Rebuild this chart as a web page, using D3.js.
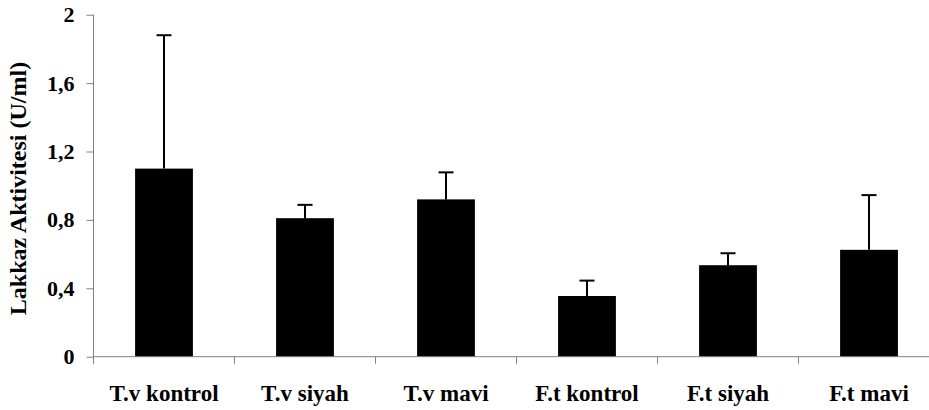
<!DOCTYPE html>
<html>
<head>
<meta charset="utf-8">
<script src="https://cdn.jsdelivr.net/npm/d3@7"></script>
<style>
  body { margin: 0; background: #fff; }
  svg { display: block; }
  text { font-family: "Liberation Serif", "Times New Roman", serif; font-weight: bold; fill: #000; }
</style>
</head>
<body>
<div id="chart"></div>
<script>
// data
const categories = ["T.v kontrol", "T.v siyah", "T.v mavi", "F.t kontrol", "F.t siyah", "F.t mavi"];
const values = [1.10, 0.81, 0.92, 0.355, 0.535, 0.625];
const errors = [0.78, 0.078, 0.158, 0.09, 0.07, 0.32];
const yTicks = [0, 0.4, 0.8, 1.2, 1.6, 2];
const yLabel = "Lakkaz Aktivitesi (U/ml)";

const width = 929, height = 410;
const margin = { top: 14.7, left: 93.5, bottom: 356.7 };

const data = categories.map((c, i) => ({ cat: c, value: values[i], err: errors[i] }));

const svg = d3.select("#chart").append("svg")
    .attr("width", width)
    .attr("height", height);

// scales
const x = d3.scaleBand()
    .domain(categories)
    .range([margin.left, margin.left + 6 * 141]);
const y = d3.scaleLinear()
    .domain([0, 2])
    .range([margin.bottom, margin.top]);

const barW = x.bandwidth() * 0.41;
const axisColor = "#808080";

// bars
svg.append("g").selectAll("rect")
    .data(data)
    .join("rect")
    .attr("x", d => x(d.cat) + x.bandwidth() / 2 - barW / 2)
    .attr("width", barW)
    .attr("y", d => y(d.value))
    .attr("height", d => y(0) - y(d.value))
    .attr("fill", "#000");

// error bars (upper only)
const eb = svg.append("g").attr("stroke", "#000").attr("stroke-width", 2);
eb.selectAll("line.v")
    .data(data)
    .join("line")
    .attr("class", "v")
    .attr("x1", d => x(d.cat) + x.bandwidth() / 2)
    .attr("x2", d => x(d.cat) + x.bandwidth() / 2)
    .attr("y1", d => y(d.value))
    .attr("y2", d => y(d.value + d.err));
eb.selectAll("line.cap")
    .data(data)
    .join("line")
    .attr("class", "cap")
    .attr("x1", d => x(d.cat) + x.bandwidth() / 2 - 7.5)
    .attr("x2", d => x(d.cat) + x.bandwidth() / 2 + 7.5)
    .attr("y1", d => y(d.value + d.err))
    .attr("y2", d => y(d.value + d.err));

// y axis
const yAxis = svg.append("g")
    .attr("transform", `translate(${margin.left},0)`)
    .call(d3.axisLeft(y)
        .tickValues(yTicks)
        .tickSize(7)
        .tickPadding(12)
        .tickFormat(d => String(d).replace(".", ",")));
yAxis.attr("font-family", null);
yAxis.select(".domain").attr("stroke", axisColor).attr("d", `M0,${margin.top}V${margin.bottom + 7}`);
yAxis.selectAll(".tick line").attr("stroke", axisColor);
yAxis.selectAll(".tick text")
    .attr("font-size", 22)
    .attr("fill", "#000");

// x axis: ticks at category boundaries
const xAxis = svg.append("g");
xAxis.append("line")
    .attr("x1", margin.left)
    .attr("x2", width)
    .attr("y1", y(0))
    .attr("y2", y(0))
    .attr("stroke", axisColor);
xAxis.selectAll("line.tick")
    .data(categories)
    .join("line")
    .attr("class", "tick")
    .attr("x1", d => x(d))
    .attr("x2", d => x(d))
    .attr("y1", y(0))
    .attr("y2", y(0) + 7)
    .attr("stroke", axisColor);
xAxis.selectAll("text")
    .data(categories)
    .join("text")
    .attr("x", d => x(d) + x.bandwidth() / 2)
    .attr("y", 401)
    .attr("text-anchor", "middle")
    .attr("font-size", 23)
    .text(d => d);

// y axis title
svg.append("text")
    .attr("transform", "translate(26,188.5) rotate(-90)")
    .attr("text-anchor", "middle")
    .attr("font-size", 24)
    .text(yLabel);
</script>
</body>
</html>
